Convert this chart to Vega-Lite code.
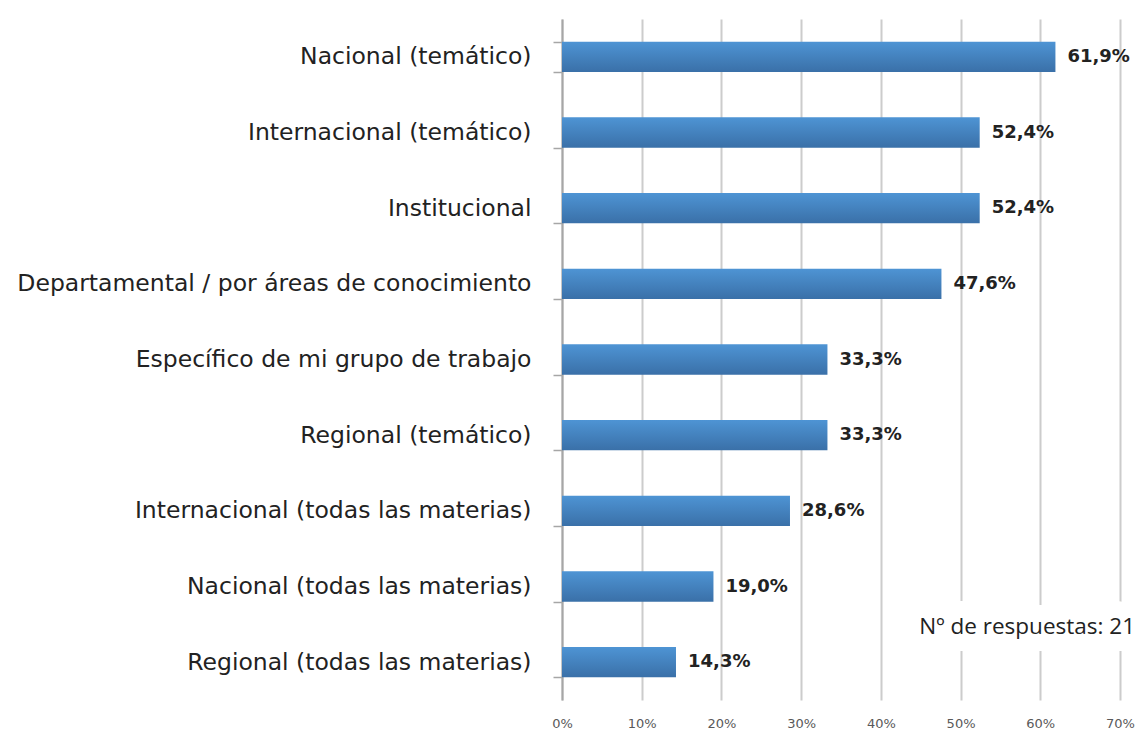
{
  "$schema": "https://vega.github.io/schema/vega-lite/v6.json",
  "width": 558,
  "height": 681,
  "autosize": "none",
  "padding": {"left": 562, "top": 19, "right": 18, "bottom": 31},
  "background": "white",
  "config": {
    "view": {"stroke": null},
    "font": "DejaVu Sans",
    "locale": {"number": {"decimal": ",", "thousands": ".", "grouping": [3], "currency": ["", " €"]}}
  },
  "datasets": {
    "bars": [
      {"cat": "Nacional (temático)", "v": 0.619},
      {"cat": "Internacional (temático)", "v": 0.524},
      {"cat": "Institucional", "v": 0.524},
      {"cat": "Departamental / por áreas de conocimiento", "v": 0.476},
      {"cat": "Específico de mi grupo de trabajo", "v": 0.333},
      {"cat": "Regional (temático)", "v": 0.333},
      {"cat": "Internacional (todas las materias)", "v": 0.286},
      {"cat": "Nacional (todas las materias)", "v": 0.190},
      {"cat": "Regional (todas las materias)", "v": 0.143}
    ],
    "note": [
      {"cat": "Nacional (todas las materias)", "v": 0.7, "label": "Nº de respuestas: 21"}
    ]
  },
  "layer": [
    {
      "data": {"name": "bars"},
      "mark": {
        "type": "bar",
        "color": {"gradient": "linear", "x1": 0, "y1": 0, "x2": 0, "y2": 1,
          "stops": [{"offset": 0, "color": "#4e94d4"}, {"offset": 1, "color": "#3a70a8"}]}
      },
      "encoding": {
        "y": {
          "field": "cat", "type": "nominal", "sort": null,
          "scale": {"paddingInner": 0.6, "paddingOuter": 0.3},
          "axis": {
            "title": null, "tickBand": "extent", "labelFontSize": 23.5, "labelColor": "#222222",
            "labelPadding": 22, "tickSize": 9, "tickColor": "#a6a6a6", "tickWidth": 1.5,
            "domainColor": "#a6a6a6", "domainWidth": 2, "labelLimit": 600
          }
        },
        "x": {
          "field": "v", "type": "quantitative",
          "scale": {"domain": [0, 0.7]},
          "axis": {
            "title": null, "format": ".0%", "values": [0, 0.1, 0.2, 0.3, 0.4, 0.5, 0.6, 0.7],
            "domain": false, "ticks": false, "grid": true, "gridColor": "#cccccc", "gridWidth": 2,
            "labelFontSize": 13, "labelColor": "#595959", "labelPadding": 17, "labelFlush": false
          }
        }
      }
    },
    {
      "data": {"name": "bars"},
      "mark": {"type": "text", "align": "left", "dx": 12, "fontSize": 18, "fontWeight": "bold", "color": "#222222"},
      "encoding": {
        "y": {"field": "cat", "type": "nominal", "sort": null},
        "x": {"field": "v", "type": "quantitative"},
        "text": {"field": "v", "type": "quantitative", "format": ".1%"}
      }
    },
    {
      "data": {"name": "note"},
      "mark": {"type": "text", "font": "Open Sans", "align": "right", "dx": 15, "dy": 40, "fontSize": 22.5, "color": "white", "stroke": "white", "strokeWidth": 34},
      "encoding": {
        "y": {"field": "cat", "type": "nominal", "sort": null},
        "x": {"field": "v", "type": "quantitative"},
        "text": {"field": "label", "type": "nominal"}
      }
    },
    {
      "data": {"name": "note"},
      "mark": {"type": "text", "font": "Open Sans", "align": "right", "dx": 15, "dy": 40, "fontSize": 22.5, "color": "#222222"},
      "encoding": {
        "y": {"field": "cat", "type": "nominal", "sort": null},
        "x": {"field": "v", "type": "quantitative"},
        "text": {"field": "label", "type": "nominal"}
      }
    }
  ]
}
